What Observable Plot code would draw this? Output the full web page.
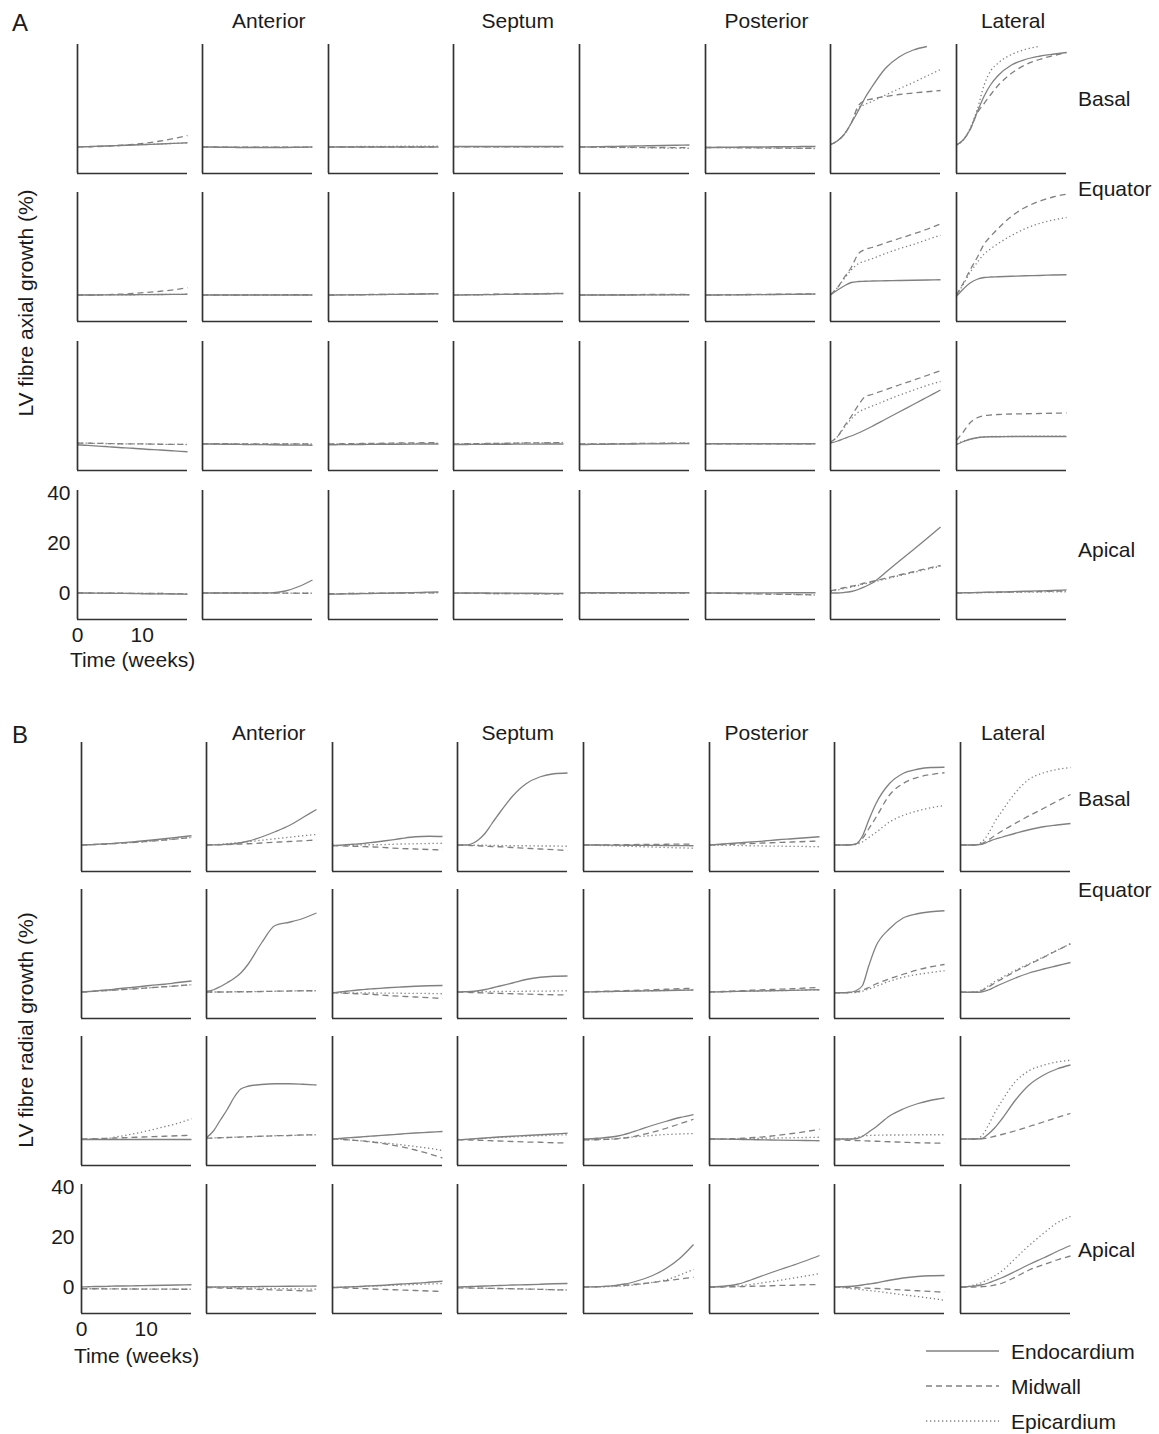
<!DOCTYPE html>
<html>
<head>
<meta charset="utf-8">
<script src="https://cdn.jsdelivr.net/npm/d3@7"></script>
<script src="https://cdn.jsdelivr.net/npm/@observablehq/plot@0.6"></script>
<style>
  html, body { margin: 0; padding: 0; background: #fff; }
  #root { position: relative; width: 1159px; height: 1434px; overflow: hidden; font-family: "Liberation Sans", Arial, sans-serif; }
  #labels { position: absolute; left: 0; top: 0; }
  .panel { position: absolute; }
</style>
</head>
<body>
<div id="root"></div>
<script>
// ---------------- DATA ----------------
const weeks = [0, 1.1, 2.1, 3.2, 4.3, 5.3, 6.4, 8.5, 10.6, 12.8, 14.9, 17];
const layers = ["Endocardium", "Midwall", "Epicardium"];
const regionHeaders = ["", "Anterior", "", "Septum", "", "Posterior", "", "Lateral"];
const levelLabels = ["Basal", "Equator", "", "Apical"];
const yTicks = [0, 20, 40];
const xTicks = [0, 10];

// Panel A: fibre axial growth (%), 8 columns per row, one value per week sample
const axialBasalEndo = [
  [0,0.1,0.2,0.3,0.4,0.5,0.6,0.8,1.0,1.2,1.45,1.7],
  [0,0,-0.1,-0.1,-0.1,-0.2,-0.2,-0.2,-0.2,-0.2,-0.1,0],
  [0,0,0,0,0,0,0,0,0,0,0,0],
  [0.2,0.2,0.2,0.2,0.2,0.2,0.2,0.2,0.2,0.2,0.2,0.2],
  [0,0.05,0.1,0.15,0.2,0.25,0.3,0.4,0.5,0.6,0.7,0.8],
  [-0.2,-0.2,-0.1,-0.1,-0.1,0,0,0,0.1,0.1,0.2,0.2],
  [1,2.5,5,9.5,14.5,19.5,24,31.5,36,38.8,40.2,null],
  [0.8,3,7,14,20.5,25,28.5,32.8,35,36.3,37.1,37.8]
];
const axialBasalMid = [
  [0,0.05,0.1,0.2,0.3,0.45,0.6,1.0,1.6,2.4,3.4,4.6],
  [0,0,0,-0.1,-0.1,-0.1,-0.1,-0.1,-0.1,-0.1,-0.1,0],
  [0,0,0,0,0,0,0,0,0,0,0,0.1],
  [0.1,0.1,0.1,0.1,0.1,0.1,0.1,0.1,0.1,0.1,0.1,0.1],
  [0,0,-0.05,-0.05,-0.1,-0.1,-0.1,-0.15,-0.2,-0.2,-0.25,-0.3],
  [-0.2,-0.2,-0.2,-0.25,-0.25,-0.3,-0.3,-0.35,-0.4,-0.45,-0.5,-0.5],
  [1,2.5,5,9.5,16.5,18.5,19.2,20.2,21,21.6,22.1,22.6],
  [0.8,3,7,13.5,17.5,21,24.5,29.5,32.8,35,36.5,37.8]
];
const axialBasalEpi = [
  [0,0.1,0.2,0.3,0.4,0.5,0.6,0.8,1.0,1.2,1.45,1.7],
  [0,0,0,-0.1,-0.1,-0.1,-0.1,-0.1,-0.1,-0.1,-0.1,0],
  [0,0.1,0.1,0.1,0.2,0.2,0.2,0.2,0.3,0.3,0.3,0.3],
  [0.1,0.1,0.1,0.1,0.1,0.1,0.1,0.1,0.1,0.1,0.1,0.1],
  [0,-0.05,-0.1,-0.1,-0.15,-0.2,-0.2,-0.25,-0.3,-0.4,-0.45,-0.5],
  [-0.2,-0.2,-0.25,-0.3,-0.3,-0.35,-0.35,-0.4,-0.45,-0.5,-0.55,-0.6],
  [1,2.5,5,9.5,15.5,17,18.2,20.8,23.3,25.8,28.4,31],
  [0.8,3,7.5,15,25,30.5,33.5,37,39,40.3,null,null]
];

const axialEquatorEndo = [
  [0,0,0,0,0.05,0.05,0.1,0.1,0.15,0.2,0.25,0.3],
  [0,0,0,0,0,0,0,0,0,0,0,0],
  [0,0,0.05,0.05,0.1,0.1,0.15,0.2,0.25,0.3,0.4,0.5],
  [0,0,0.05,0.1,0.1,0.15,0.2,0.25,0.35,0.4,0.5,0.6],
  [0,0,0,0,0,0,0,0,0.05,0.05,0.1,0.1],
  [0,0,0,0.05,0.05,0.1,0.1,0.15,0.2,0.25,0.3,0.4],
  [0,2,3.6,5,5.4,5.5,5.6,5.7,5.8,5.9,6,6.1],
  [-0.5,2.5,4.8,6.3,7,7.2,7.3,7.5,7.7,7.8,8,8.1]
];
const axialEquatorMid = [
  [0,0,0,0.05,0.1,0.2,0.3,0.6,1.0,1.5,2.1,2.9],
  [0,0,0,0,0,0,0,0.05,0.05,0.1,0.1,0.1],
  [0,0,0.05,0.1,0.1,0.15,0.2,0.25,0.3,0.4,0.5,0.6],
  [0,0.05,0.1,0.15,0.2,0.25,0.3,0.35,0.45,0.5,0.6,0.7],
  [0,0,0.05,0.05,0.1,0.1,0.1,0.15,0.2,0.2,0.25,0.3],
  [0,0,0.05,0.1,0.1,0.15,0.2,0.25,0.3,0.35,0.4,0.5],
  [0.3,3,7,11,16.5,18.2,19,20.8,22.6,24.4,26.3,28.4],
  [0,5,10,15,20.5,23.5,26.5,31.5,35,37.5,39.2,40.3]
];
const axialEquatorEpi = [
  [0,0,0,0,0.05,0.05,0.1,0.1,0.15,0.2,0.25,0.3],
  [0,0,0,0,0,0,0,0,0,0,0,0],
  [0,0,0.05,0.05,0.1,0.1,0.15,0.2,0.25,0.3,0.4,0.5],
  [0,0,0.05,0.1,0.1,0.15,0.2,0.25,0.35,0.4,0.5,0.6],
  [0,0,0,0,0,0,0,0,0.05,0.05,0.1,0.1],
  [0,0,0,0.05,0.05,0.1,0.1,0.15,0.2,0.25,0.3,0.4],
  [0.3,3,6.5,10,12.5,13.5,14.5,16.6,18.5,20.2,22.1,23.9],
  [0,4.5,9,13,16.5,18.5,20.5,23.8,26.5,28.6,30,31]
];

const axialRow3Endo = [
  [-0.3,-0.5,-0.65,-0.85,-1.0,-1.2,-1.4,-1.7,-2.1,-2.4,-2.75,-3.1],
  [0,0,-0.05,-0.1,-0.1,-0.15,-0.2,-0.25,-0.3,-0.4,-0.45,-0.5],
  [-0.3,-0.3,-0.25,-0.25,-0.2,-0.2,-0.15,-0.1,-0.1,-0.05,0,0],
  [-0.2,-0.2,-0.2,-0.15,-0.15,-0.1,-0.1,-0.1,-0.05,-0.05,0,0],
  [-0.2,-0.2,-0.15,-0.1,-0.1,-0.05,0,0,0.05,0.1,0.15,0.2],
  [0.1,0.1,0.1,0.1,0.1,0.1,0.1,0.1,0.1,0.1,0.1,0.1],
  [0.4,1.2,2.2,3.2,4.4,5.6,7,9.9,12.8,15.8,18.7,21.6],
  [-0.3,1,1.9,2.5,2.8,2.9,2.9,3.0,3.0,3.0,3.0,3.0]
];
const axialRow3Mid = [
  [0.4,0.35,0.3,0.25,0.2,0.15,0.1,0.05,0,-0.1,-0.15,-0.2],
  [0.1,0.1,0.1,0.1,0.1,0.05,0.05,0.05,0,0,0,0],
  [0,0.05,0.1,0.1,0.15,0.2,0.25,0.3,0.4,0.45,0.5,0.6],
  [0,0.05,0.1,0.1,0.15,0.2,0.25,0.3,0.4,0.45,0.5,0.6],
  [0,0,0.05,0.05,0.1,0.1,0.15,0.2,0.25,0.3,0.35,0.4],
  [0.1,0.1,0.1,0.1,0.1,0.1,0.1,0.1,0.1,0.1,0.1,0.1],
  [0.8,3,7,11,15.5,18.8,19.8,21.7,23.6,25.5,27.4,29.3],
  [1.5,5,8.5,10.5,11.3,11.6,11.8,12,12.1,12.2,12.3,12.4]
];
const axialRow3Epi = [
  [0.4,0.35,0.3,0.25,0.2,0.15,0.1,0.05,0,-0.1,-0.15,-0.2],
  [0.1,0.1,0.1,0.1,0.1,0.05,0.05,0.05,0,0,0,0],
  [0,0,0,0.05,0.05,0.1,0.1,0.15,0.2,0.2,0.25,0.3],
  [0,0.05,0.1,0.1,0.15,0.2,0.25,0.3,0.4,0.45,0.5,0.6],
  [0,0,0.05,0.05,0.1,0.1,0.15,0.2,0.25,0.3,0.35,0.4],
  [0.1,0.1,0.1,0.1,0.1,0.1,0.1,0.1,0.1,0.1,0.1,0.1],
  [0.8,3,6.5,10,12.7,14,15.1,17.3,19.5,21.5,23.4,25],
  [0,1.2,2,2.6,2.9,3,3,3,3.1,3.1,3.1,3.1]
];

const axialApicalEndo = [
  [0,0,-0.05,-0.05,-0.1,-0.1,-0.15,-0.2,-0.3,-0.35,-0.4,-0.5],
  [0,0,0,0,0,0,0,0,0.05,0.8,2.6,5.2],
  [-0.5,-0.45,-0.4,-0.35,-0.3,-0.25,-0.2,-0.1,0,0.15,0.3,0.4],
  [0,0,0,0,0,0,-0.05,-0.05,-0.1,-0.1,-0.15,-0.2],
  [0.1,0.1,0.1,0.1,0.1,0.1,0.1,0.1,0.1,0.1,0.1,0.1],
  [0,0,0,0,0,0,0.05,0.05,0.05,0.1,0.1,0.1],
  [0,0,0.2,0.6,1.4,2.5,3.9,8.2,12.7,17.3,21.8,26.4],
  [0,0.1,0.15,0.2,0.3,0.35,0.4,0.55,0.7,0.85,1.0,1.2]
];
const axialApicalMid = [
  [0,0,0,-0.05,-0.05,-0.1,-0.1,-0.15,-0.2,-0.2,-0.25,-0.3],
  [0,0,0,0,0,0,0,-0.05,-0.05,-0.05,-0.1,-0.1],
  [-0.3,-0.3,-0.25,-0.2,-0.2,-0.15,-0.1,-0.05,0,0,0.05,0.1],
  [-0.1,-0.1,-0.1,-0.15,-0.15,-0.2,-0.2,-0.2,-0.25,-0.3,-0.3,-0.3],
  [0,0,0,0,0,0,0,0,0,0,0,0],
  [0,-0.05,-0.1,-0.1,-0.15,-0.2,-0.25,-0.35,-0.45,-0.55,-0.65,-0.8],
  [0.9,1.5,2.1,2.7,3.3,4,4.6,5.9,7.2,8.5,9.8,11],
  [0,0.05,0.1,0.15,0.2,0.25,0.3,0.4,0.5,0.6,0.7,0.8]
];
const axialApicalEpi = [
  [0,0,0,-0.05,-0.05,-0.1,-0.1,-0.15,-0.2,-0.2,-0.25,-0.3],
  [0,0,0,0,0,0,0,-0.05,-0.05,-0.05,-0.1,-0.1],
  [-0.3,-0.3,-0.25,-0.2,-0.2,-0.15,-0.1,-0.05,0,0,0.05,0.1],
  [-0.1,-0.1,-0.1,-0.15,-0.15,-0.2,-0.2,-0.2,-0.25,-0.3,-0.3,-0.3],
  [0,0,0,0,0,0,0,0,0,0,0,0],
  [0,-0.05,-0.1,-0.1,-0.15,-0.2,-0.25,-0.35,-0.45,-0.55,-0.65,-0.8],
  [0.6,1.2,1.8,2.4,3,3.7,4.3,5.6,6.9,8.2,9.5,10.7],
  [0,0.03,0.06,0.1,0.13,0.17,0.2,0.27,0.33,0.4,0.45,0.5]
];

// Panel B: fibre radial growth (%)
const radialBasalEndo = [
  [0,0.1,0.25,0.4,0.55,0.75,0.95,1.4,1.9,2.5,3.1,3.7],
  [0,0.05,0.15,0.3,0.5,0.9,1.5,3.2,5.3,7.8,11,14.2],
  [-0.2,-0.1,0.1,0.3,0.5,0.8,1.1,1.8,2.6,3.3,3.5,3.4],
  [0,0,0.4,2,4.8,8.5,12.5,19.5,24.5,27.3,28.5,28.8],
  [0,0,0,0,-0.05,-0.05,-0.1,-0.1,-0.15,-0.2,-0.25,-0.3],
  [0,0.2,0.4,0.6,0.8,1,1.2,1.6,2.1,2.5,2.9,3.3],
  [0,0,0,0.3,3.5,10,16.5,24.6,28.6,30.3,31,31.1],
  [0,0,0,0.3,1.3,2.3,3.1,4.7,6.1,7.3,8,8.6]
];
const radialBasalMid = [
  [0,0.1,0.2,0.3,0.45,0.6,0.75,1.1,1.5,2,2.5,3],
  [0,0.05,0.1,0.2,0.3,0.4,0.5,0.8,1.1,1.4,1.7,2],
  [-0.2,-0.3,-0.4,-0.5,-0.6,-0.7,-0.8,-1.1,-1.4,-1.6,-1.8,-2],
  [0,-0.1,-0.2,-0.3,-0.5,-0.6,-0.7,-1,-1.3,-1.6,-1.9,-2.2],
  [0,0,0.05,0.05,0.1,0.1,0.15,0.2,0.25,0.3,0.35,0.4],
  [0,0.1,0.2,0.3,0.4,0.5,0.6,0.8,1,1.2,1.4,1.6],
  [0,0,0,0.3,2.5,6.5,11,20,24.6,27,28.2,28.9],
  [0,0,0,0.5,2,3.8,5.6,8.7,11.7,14.6,17.5,20.2]
];
const radialBasalEpi = [
  [0,0.1,0.2,0.3,0.45,0.6,0.75,1.1,1.5,2,2.5,3],
  [0,0.1,0.3,0.5,0.8,1,1.3,1.9,2.5,3.1,3.7,4.2],
  [-0.2,-0.2,-0.1,-0.1,0,0.1,0.1,0.2,0.4,0.5,0.6,0.7],
  [0,0,-0.1,-0.1,-0.1,-0.2,-0.2,-0.3,-0.3,-0.4,-0.4,-0.5],
  [0,-0.1,-0.15,-0.25,-0.3,-0.4,-0.5,-0.65,-0.8,-1,-1.15,-1.3],
  [0,-0.05,-0.1,-0.15,-0.2,-0.25,-0.3,-0.4,-0.45,-0.55,-0.6,-0.7],
  [0,0,0,0.2,1.2,3,5,9.2,11.8,13.6,14.9,15.8],
  [0,0,0,1,4.5,9.3,13.5,21,26.3,28.8,30.2,31]
];

const radialEquatorEndo = [
  [0,0.2,0.4,0.7,0.9,1.2,1.5,2,2.6,3.1,3.8,4.4],
  [0.2,0.9,2.1,3.7,5.5,7.6,11,19.6,26.6,27.9,29.4,31.6],
  [-0.3,0,0.3,0.6,0.9,1.1,1.3,1.7,2,2.3,2.5,2.6],
  [0,0.1,0.2,0.5,1,1.6,2.3,3.6,5,5.9,6.3,6.4],
  [0,0.05,0.1,0.15,0.2,0.25,0.3,0.4,0.5,0.6,0.7,0.8],
  [0,0.05,0.1,0.2,0.25,0.3,0.35,0.45,0.55,0.65,0.8,0.9],
  [-0.3,-0.3,-0.2,0.4,2.5,10.5,18.3,25.3,29.6,31.3,32.1,32.5],
  [0,-0.1,-0.1,0,0.8,2,3.3,5.6,7.6,9.2,10.5,11.8]
];
const radialEquatorMid = [
  [0,0.1,0.3,0.5,0.6,0.8,1,1.3,1.7,2.1,2.5,2.9],
  [0,0,0,0,0.1,0.1,0.1,0.2,0.3,0.4,0.5,0.5],
  [-0.3,-0.4,-0.5,-0.6,-0.8,-0.9,-1,-1.4,-1.7,-2,-2.3,-2.6],
  [0,-0.1,-0.2,-0.3,-0.4,-0.5,-0.55,-0.7,-0.85,-1,-1.1,-1.2],
  [0,0.1,0.2,0.3,0.35,0.45,0.55,0.7,0.9,1.1,1.3,1.5],
  [0,0.1,0.2,0.35,0.45,0.55,0.7,0.9,1.1,1.3,1.6,1.8],
  [-0.3,-0.3,-0.2,0,0.7,1.8,3.2,5.3,7.1,8.8,10.1,11],
  [0,-0.1,-0.1,0.5,2,3.6,5.2,8.3,11,13.8,16.6,19.3]
];
const radialEquatorEpi = [
  [0,0.1,0.3,0.5,0.6,0.8,1,1.3,1.7,2.1,2.5,2.9],
  [0,0,0,0,0.1,0.1,0.1,0.2,0.3,0.4,0.5,0.5],
  [-0.3,-0.3,-0.3,-0.35,-0.35,-0.4,-0.4,-0.45,-0.5,-0.55,-0.6,-0.7],
  [0,0.05,0.1,0.1,0.15,0.2,0.2,0.25,0.3,0.35,0.4,0.5],
  [0,0.05,0.1,0.15,0.2,0.25,0.3,0.4,0.5,0.6,0.7,0.8],
  [0,0.05,0.1,0.2,0.25,0.3,0.35,0.45,0.55,0.65,0.8,0.9],
  [-0.3,-0.3,-0.3,-0.2,0.3,1.2,2.2,4.3,5.9,7,7.8,8.5],
  [0,-0.1,0,0.8,2.5,4.2,5.8,8.7,11.3,14,16.7,19.3]
];

const radialRow3Endo = [
  [-0.2,-0.2,-0.2,-0.2,-0.2,-0.2,-0.2,-0.2,-0.2,-0.2,-0.2,-0.2],
  [0.5,3.3,7.4,11.8,16.8,20,21.1,21.8,22.1,22.1,21.9,21.6],
  [0,0.2,0.4,0.6,0.8,1,1.2,1.6,2,2.4,2.7,3],
  [-0.3,-0.2,0,0.2,0.4,0.6,0.8,1.1,1.4,1.7,2,2.3],
  [0,0.1,0.3,0.5,0.8,1.2,1.9,3.6,5.4,7.1,8.6,9.8],
  [0,0,-0.05,-0.1,-0.15,-0.2,-0.25,-0.35,-0.45,-0.55,-0.6,-0.7],
  [0,0,0,0.1,1,2.8,4.8,9.2,12,14.1,15.5,16.4],
  [0,0,0,0.1,2,4.5,8,15.6,21.6,25.5,28,29.6]
];
const radialRow3Mid = [
  [0,0.1,0.15,0.2,0.3,0.4,0.5,0.7,0.9,1.1,1.3,1.5],
  [0.3,0.4,0.5,0.6,0.7,0.8,0.9,1.1,1.3,1.4,1.6,1.7],
  [0,-0.1,-0.3,-0.5,-0.7,-1,-1.3,-2.1,-3.1,-4.4,-5.9,-7.6],
  [-0.2,-0.3,-0.4,-0.5,-0.6,-0.7,-0.8,-1,-1.2,-1.3,-1.5,-1.6],
  [-0.3,-0.3,-0.3,-0.2,-0.1,0.1,0.4,1.4,2.7,4.3,6.1,7.9],
  [0,0,0,0.1,0.2,0.3,0.5,0.9,1.5,2.2,3,3.9],
  [-0.3,-0.4,-0.5,-0.6,-0.7,-0.8,-0.9,-1.1,-1.3,-1.5,-1.6,-1.7],
  [0,0,0,0.1,0.5,1.1,1.8,3.3,5,6.8,8.6,10.2]
];
const radialRow3Epi = [
  [0,0,0,0.1,0.3,0.8,1.3,2.3,3.5,4.9,6.3,8.1],
  [0.3,0.4,0.5,0.6,0.7,0.8,0.9,1.1,1.3,1.4,1.6,1.7],
  [0,-0.1,-0.3,-0.5,-0.7,-0.9,-1.2,-1.7,-2.3,-3,-3.7,-4.6],
  [-0.3,-0.2,-0.1,0.1,0.3,0.4,0.6,0.8,1.1,1.3,1.5,1.7],
  [-0.3,-0.3,-0.2,-0.1,0,0.3,0.5,1,1.4,1.8,2,2.2],
  [0,0,0,0.05,0.1,0.15,0.2,0.3,0.4,0.5,0.6,0.7],
  [0,0,0,0.5,1.2,1.4,1.5,1.6,1.6,1.7,1.7,1.7],
  [0,0,0,1,5.5,10.5,15.2,23,27.3,29.5,30.8,31.5]
];

const radialApicalEndo = [
  [0,0.1,0.2,0.2,0.3,0.4,0.4,0.5,0.6,0.7,0.8,0.9],
  [0,0,0.05,0.05,0.1,0.1,0.15,0.2,0.25,0.3,0.35,0.4],
  [-0.2,-0.1,0,0.1,0.2,0.4,0.5,0.8,1.2,1.5,1.9,2.3],
  [0,0.1,0.2,0.3,0.4,0.5,0.6,0.8,0.9,1.1,1.3,1.4],
  [0,0.05,0.1,0.25,0.45,0.8,1.2,2.6,4.5,7.5,11.5,17],
  [0,0.1,0.3,0.6,1.1,1.8,2.8,4.8,6.7,8.6,10.5,12.6],
  [0,0.1,0.2,0.4,0.8,1.2,1.6,2.7,3.6,4.2,4.5,4.6],
  [0,0.1,0.4,0.8,1.6,2.6,3.7,6.3,9,11.6,14.2,16.6]
];
const radialApicalMid = [
  [-0.7,-0.7,-0.7,-0.7,-0.75,-0.75,-0.8,-0.8,-0.85,-0.85,-0.9,-0.9],
  [-0.2,-0.3,-0.4,-0.5,-0.6,-0.7,-0.8,-1,-1.2,-1.3,-1.5,-1.6],
  [-0.2,-0.3,-0.4,-0.5,-0.6,-0.7,-0.8,-1,-1.2,-1.4,-1.6,-1.8],
  [-0.3,-0.35,-0.4,-0.45,-0.5,-0.55,-0.6,-0.7,-0.8,-0.95,-1.1,-1.2],
  [0,0,0.1,0.2,0.3,0.5,0.7,1.2,1.8,2.5,3.2,3.9],
  [0,0,0,0.1,0.1,0.2,0.3,0.4,0.6,0.7,0.9,1],
  [0,-0.1,-0.2,-0.3,-0.4,-0.5,-0.6,-0.9,-1.2,-1.5,-1.8,-2.1],
  [0,0,0,0.1,0.3,0.8,1.5,4,6.8,8.9,10.8,12.4]
];
const radialApicalEpi = [
  [-0.7,-0.7,-0.7,-0.7,-0.75,-0.75,-0.8,-0.8,-0.85,-0.85,-0.9,-0.9],
  [-0.1,-0.15,-0.2,-0.25,-0.3,-0.35,-0.4,-0.5,-0.6,-0.7,-0.8,-0.9],
  [-0.2,-0.1,0,0.1,0.2,0.3,0.4,0.6,0.8,1,1.2,1.4],
  [-0.3,-0.35,-0.4,-0.45,-0.5,-0.55,-0.6,-0.7,-0.8,-0.95,-1.1,-1.2],
  [0,0,0.1,0.1,0.2,0.3,0.5,1,1.8,2.9,4.8,7],
  [0,0,0.1,0.2,0.4,0.7,1,1.8,2.6,3.5,4.4,5.4],
  [0,-0.2,-0.5,-0.8,-1.1,-1.4,-1.7,-2.4,-3.1,-3.8,-4.5,-5.3],
  [0,0.2,0.8,1.7,3,4.5,6.4,11.5,16.6,21.4,25.6,28.2]
];

// ---------------- LAYOUT & STYLE ----------------
const FONT = '"Liberation Sans", Arial, sans-serif';
const FONT_SIZE = 21;
const TEXT_COLOR = "#1b1b1b";
const LINE_COLOR = "#808080";
const AXIS_COLOR = "#333";
const dashes = {Endocardium: null, Midwall: "6,4", Epicardium: "1.3,2.7"};
const PANEL_W = 110, PANEL_H = 129;
const M = {left: 48, right: 6, top: 6, bottom: 60};
const COL_STEP = 125.6;
const Y_DOMAIN = [-10.6, 41];
const X_DOMAIN = [0, 17];
const zeroOffset = PANEL_H * (Y_DOMAIN[1] - 0) / (Y_DOMAIN[1] - Y_DOMAIN[0]);

const groups = [
  {
    letter: "A", letterY: 31, headerY: 27.5, x0: 76.6,
    zeros: [146, 294.9, 443.8, 592.7],
    labelY: [106, 196, null, 557],
    title: "LV fibre axial growth (%)", titleY: 303,
    rows: [
      [axialBasalEndo, axialBasalMid, axialBasalEpi],
      [axialEquatorEndo, axialEquatorMid, axialEquatorEpi],
      [axialRow3Endo, axialRow3Mid, axialRow3Epi],
      [axialApicalEndo, axialApicalMid, axialApicalEpi]
    ],
    tickDy: 22, timeDy: 47
  },
  {
    letter: "B", letterY: 743, headerY: 739.5, x0: 80.5,
    zeros: [844.3, 991.5, 1138.7, 1286],
    labelY: [806, 897, null, 1257],
    title: "LV fibre radial growth (%)", titleY: 1030,
    rows: [
      [radialBasalEndo, radialBasalMid, radialBasalEpi],
      [radialEquatorEndo, radialEquatorMid, radialEquatorEpi],
      [radialRow3Endo, radialRow3Mid, radialRow3Epi],
      [radialApicalEndo, radialApicalMid, radialApicalEpi]
    ],
    tickDy: 22.5, timeDy: 49
  }
];
const headerX = [null, 268.8, null, 517.7, null, 766.5, null, 1013];
const rowLabelX = 1078;

const root = document.getElementById("root");

// ---------- text labels & legend (plain SVG overlay) ----------
const NS = "http://www.w3.org/2000/svg";
const overlay = document.createElementNS(NS, "svg");
overlay.setAttribute("id", "labels");
overlay.setAttribute("width", 1159);
overlay.setAttribute("height", 1434);
overlay.setAttribute("font-family", FONT);
overlay.setAttribute("fill", TEXT_COLOR);
root.appendChild(overlay);

function addText(str, x, y, opts = {}) {
  const t = document.createElementNS(NS, "text");
  t.textContent = str;
  t.setAttribute("x", x);
  t.setAttribute("y", y);
  t.setAttribute("font-size", opts.size || FONT_SIZE);
  if (opts.anchor) t.setAttribute("text-anchor", opts.anchor);
  if (opts.transform) t.setAttribute("transform", opts.transform);
  overlay.appendChild(t);
  return t;
}

for (const g of groups) {
  addText(g.letter, 12, g.letterY, {size: 24});
  regionHeaders.forEach((h, c) => { if (h) addText(h, headerX[c], g.headerY, {anchor: "middle"}); });
  levelLabels.forEach((lab, r) => { if (lab && g.labelY[r] != null) addText(lab, rowLabelX, g.labelY[r]); });
  addText(g.title, 0, 0, {anchor: "middle", transform: `translate(33,${g.titleY}) rotate(-90)`});
}

// legend
const legendY = [1351, 1386, 1421];
layers.forEach((L, i) => {
  const ln = document.createElementNS(NS, "line");
  ln.setAttribute("x1", 926); ln.setAttribute("x2", 999);
  ln.setAttribute("y1", legendY[i]); ln.setAttribute("y2", legendY[i]);
  ln.setAttribute("stroke", LINE_COLOR);
  ln.setAttribute("stroke-width", 1.3);
  if (dashes[L]) ln.setAttribute("stroke-dasharray", dashes[L]);
  overlay.appendChild(ln);
  addText(L, 1011, legendY[i] + 7.5);
});

// ---------- panels (Observable Plot) ----------
function makePanel(seriesByLayer, withTicks, g) {
  const rows = [];
  seriesByLayer.forEach((vals, k) => {
    vals.forEach((v, i) => { if (v != null) rows.push({t: weeks[i], v, layer: layers[k]}); });
  });
  const marks = layers.map(L => Plot.line(rows.filter(d => d.layer === L), {
    x: "t", y: "v", stroke: LINE_COLOR, strokeWidth: 1.3,
    strokeDasharray: dashes[L] || undefined, strokeLinecap: "butt",
    curve: "monotone-x"
  }));
  marks.push(Plot.ruleX([X_DOMAIN[0]], {stroke: AXIS_COLOR, strokeWidth: 1.7}));
  marks.push(Plot.ruleY([Y_DOMAIN[0]], {stroke: AXIS_COLOR, strokeWidth: 1.7}));
  if (withTicks) {
    marks.push(Plot.text(yTicks, {y: d => d, text: d => String(d), frameAnchor: "left", dx: -7, textAnchor: "end", fill: TEXT_COLOR}));
    marks.push(Plot.text(xTicks, {x: d => d, text: d => String(d), frameAnchor: "bottom", dy: g.tickDy, fill: TEXT_COLOR}));
    marks.push(Plot.text(["Time (weeks)"], {text: d => d, frameAnchor: "bottom", dy: g.timeDy, fill: TEXT_COLOR}));
  }
  return Plot.plot({
    width: PANEL_W + M.left + M.right,
    height: PANEL_H + M.top + M.bottom,
    marginLeft: M.left, marginRight: M.right, marginTop: M.top, marginBottom: M.bottom,
    x: {domain: X_DOMAIN, axis: null},
    y: {domain: Y_DOMAIN, axis: null},
    style: {background: "transparent", overflow: "visible", fontFamily: FONT, fontSize: FONT_SIZE + "px", color: TEXT_COLOR},
    marks
  });
}

for (const g of groups) {
  g.rows.forEach((rowSeries, r) => {
    for (let c = 0; c < 8; c++) {
      const series = rowSeries.map(arr => arr[c]);
      const el = makePanel(series, r === 3 && c === 0, g);
      el.classList.add("panel");
      el.style.left = (g.x0 + c * COL_STEP - M.left) + "px";
      el.style.top = (g.zeros[r] - zeroOffset - M.top) + "px";
      root.appendChild(el);
    }
  });
}
</script>
</body>
</html>
